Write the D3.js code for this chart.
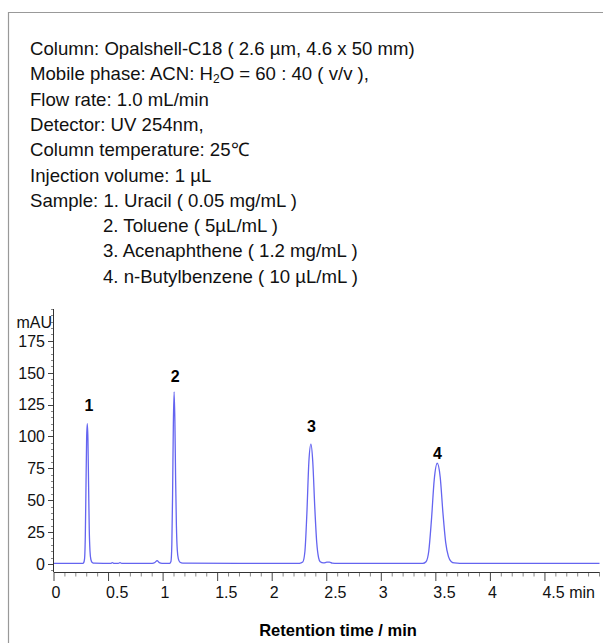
<!DOCTYPE html>
<html>
<head>
<meta charset="utf-8">
<script src="https://cdn.jsdelivr.net/npm/d3@7"></script>
<style>
  body { margin: 0; background: #fff; }
  svg { display: block; font-family: "Liberation Sans", Arial, sans-serif; }
</style>
</head>
<body>
<svg id="chart" width="603" height="643"></svg>
<script>
// ------------------------------------
// Method conditions (header text)
// ------------------------------------
const conditionLines = [
  "Column: Opalshell-C18 ( 2.6 µm, 4.6 x 50 mm)",
  "Mobile phase: ACN: H|2|O = 60 : 40 ( v/v ),",
  "Flow rate: 1.0 mL/min",
  "Detector: UV 254nm,",
  "Column temperature: 25℃",
  "Injection volume: 1 µL",
  "Sample: 1. Uracil ( 0.05 mg/mL )",
  "2. Toluene ( 5µL/mL )",
  "3. Acenaphthene ( 1.2 mg/mL )",
  "4. n-Butylbenzene ( 10 µL/mL )"
];

// ------------------------------------
// Chromatogram trace: [time (min), signal (mAU)]
// ------------------------------------
const trace = [
  [0.00, 0.5], [0.20, 0.5], [0.265, 0.5], [0.272, 1], [0.280, 4], [0.287, 22],
  [0.293, 60], [0.299, 98], [0.305, 110], [0.311, 98], [0.317, 62], [0.323, 28],
  [0.330, 10], [0.338, 3.5], [0.35, 1.2], [0.37, 0.6], [0.50, 0.5], [0.52, 0.5],
  [0.535, 1.1], [0.55, 0.5], [0.59, 0.5], [0.605, 1.0], [0.62, 0.5], [0.90, 0.5],
  [0.925, 1.2], [0.945, 2.6], [0.965, 1.0], [0.99, 0.5], [1.060, 0.5], [1.072, 2],
  [1.080, 15], [1.087, 55], [1.094, 110], [1.101, 135], [1.108, 112], [1.115, 65],
  [1.122, 30], [1.130, 11], [1.140, 4], [1.155, 1.3], [1.18, 0.6], [2.25, 0.5],
  [2.28, 1.5], [2.300, 10], [2.318, 40], [2.336, 80], [2.355, 94], [2.372, 80],
  [2.390, 45], [2.408, 17], [2.425, 5], [2.44, 1.8], [2.47, 0.8], [2.50, 1.4],
  [2.525, 1.5], [2.55, 0.7], [2.60, 0.5], [3.38, 0.5], [3.41, 1.8], [3.435, 10],
  [3.460, 35], [3.485, 66], [3.513, 79], [3.540, 68], [3.565, 40], [3.590, 17],
  [3.615, 6], [3.64, 2], [3.67, 0.8], [3.72, 0.5], [5.0, 0.5]
];

// ------------------------------------
// Peak labels: number, retention time, label height (mAU)
// ------------------------------------
const peakNames = ["1", "2", "3", "4"];
const peakTimes = [0.32, 1.11, 2.36, 3.515];
const peakLabelMAU = [124.5, 147.5, 108, 86.5];

// ------------------------------------
// Axis ticks
// ------------------------------------
const xMajorTicks = [0, 0.5, 1, 1.5, 2, 2.5, 3, 3.5, 4, 4.5];
const xTickLabels = ["0", "0.5", "1", "1.5", "2", "2.5", "3", "3.5", "4", "4.5 min"];
const yMajorTicks = [0, 25, 50, 75, 100, 125, 150, 175];
const xDomain = [0, 5];
const yDomain = [-6.3, 200];

const svg = d3.select("#chart");

// frame
svg.append("path")
  .attr("d", "M8.5,643V12.5H603")
  .attr("fill", "none")
  .attr("stroke", "#999")
  .attr("stroke-width", 1.2);

// header text
const header = svg.append("g").attr("font-size", 18.6).attr("fill", "#111");
conditionLines.forEach((line, i) => {
  const indented = /^\d/.test(line);
  const t = header.append("text")
    .attr("x", indented ? 103 : 30)
    .attr("y", 55 + i * 25.3);
  line.split("|").forEach((part, j) => {
    const sp = t.append("tspan").text(part);
    if (j === 1) sp.attr("font-size", 12).attr("dy", 3);
    if (j === 2) sp.attr("dy", -3);
  });
});

// scales
const x = d3.scaleLinear().domain(xDomain).range([54, 599.5]);
const y = d3.scaleLinear().domain(yDomain).range([572, 309]);

const g = svg.append("g");

// X axis
const xMinor = d3.range(0, 50.5, 1).map(d => d / 10);
g.append("g").selectAll("line").data(xMinor).join("line")
  .attr("x1", d => x(d)).attr("x2", d => x(d))
  .attr("y1", y.range()[0])
  .attr("y2", d => y.range()[0] + (xMajorTicks.includes(d) ? 9 : 4.5))
  .attr("stroke", (d) => xMajorTicks.includes(d) ? "#444" : "#888")
  .attr("stroke-width", 1);

g.append("line")
  .attr("x1", x(xDomain[0])).attr("x2", x(xDomain[1]))
  .attr("y1", y.range()[0] + 0.5).attr("y2", y.range()[0] + 0.5)
  .attr("stroke", "#333");

g.append("g").attr("font-size", 16).attr("fill", "#111")
  .selectAll("text").data(xMajorTicks).join("text")
  .attr("x", d => x(d) - 2.5)
  .attr("y", 598)
  .text((d, i) => xTickLabels[i]);

// Y axis
const yMinor = d3.range(-5, 201, 5);
g.append("g").selectAll("line").data(yMinor).join("line")
  .attr("x1", x(0)).attr("x2", d => x(0) - (yMajorTicks.includes(d) ? 6 : 3))
  .attr("y1", d => Math.round(y(d)) + 0.5).attr("y2", d => Math.round(y(d)) + 0.5)
  .attr("stroke", d => yMajorTicks.includes(d) ? "#444" : "#888");

g.append("line")
  .attr("x1", x(0) - 0.5).attr("x2", x(0) - 0.5)
  .attr("y1", y(yDomain[1])).attr("y2", y(yDomain[0]))
  .attr("stroke", "#333");

g.append("g").attr("font-size", 16).attr("fill", "#111").attr("text-anchor", "end")
  .selectAll("text").data(yMajorTicks).join("text")
  .attr("x", 45)
  .attr("y", d => y(d))
  .attr("dy", "0.36em")
  .text(d => d);

g.append("text")
  .attr("x", 52).attr("y", 328)
  .attr("text-anchor", "end")
  .attr("font-size", 16)
  .attr("fill", "#111")
  .text("mAU");

// trace
const line = d3.line()
  .x(d => x(d[0]))
  .y(d => y(d[1]))
  .curve(d3.curveMonotoneX);

g.append("path")
  .datum(trace)
  .attr("fill", "none")
  .attr("stroke", "#6464f0")
  .attr("stroke-width", 1.3)
  .attr("d", line);

// peak labels
g.append("g").attr("font-size", 16).attr("font-weight", "bold").attr("text-anchor", "middle")
  .selectAll("text").data(peakNames).join("text")
  .attr("x", (d, i) => x(peakTimes[i]))
  .attr("y", (d, i) => y(peakLabelMAU[i]))
  .attr("dy", "0.36em")
  .text(d => d);

// x title
svg.append("text")
  .attr("x", 338).attr("y", 636)
  .attr("text-anchor", "middle")
  .attr("font-size", 16.5)
  .attr("font-weight", "bold")
  .text("Retention time / min");
</script>
</body>
</html>
